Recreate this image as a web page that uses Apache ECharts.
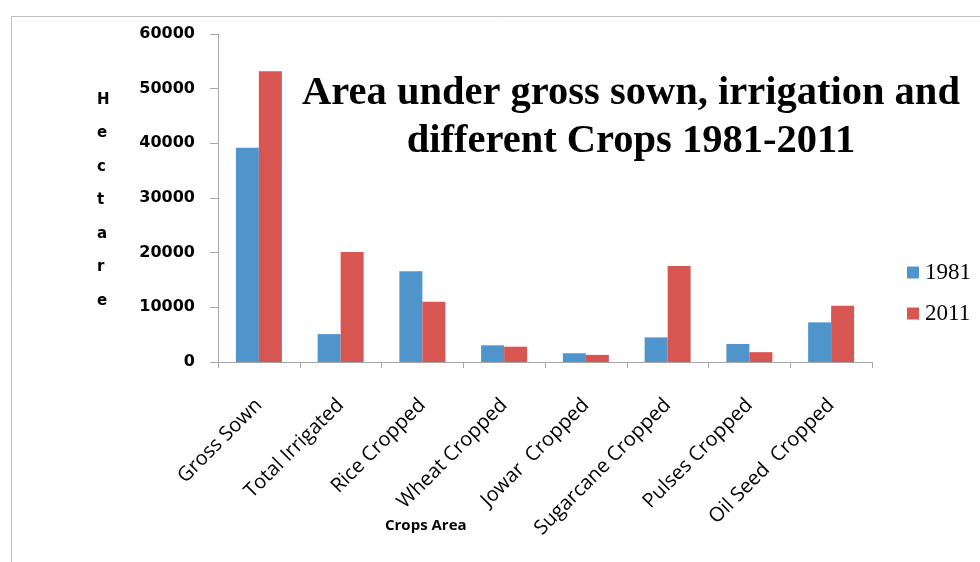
<!DOCTYPE html>
<html><head><meta charset="utf-8">
<script src="https://cdn.jsdelivr.net/npm/echarts@6/dist/echarts.min.js"></script>
<style>html,body{margin:0;padding:0;background:#fff}#c{width:980px;height:562px}</style>
</head><body><div id="c"></div>
<script>
var categories = ['Gross Sown','Total Irrigated','Rice Cropped','Wheat Cropped','Jowar  Cropped','Sugarcane Cropped','Pulses Cropped','Oil Seed  Cropped'];
var values1981 = [39200, 5100, 16600, 3050, 1600, 4500, 3300, 7250];
var values2011 = [53200, 20100, 11000, 2800, 1300, 17550, 1800, 10300];
var seriesNames = ['1981','2011'];
var yTicks = [0, 10000, 20000, 30000, 40000, 50000, 60000];
var titleLines = ['Area under gross sown, irrigation and', 'different Crops 1981-2011'];
var yAxisTitle = 'Hectare';
var xAxisTitle = 'Crops Area';

var chart = echarts.init(document.getElementById('c'));
var axisColor = '#a6a6a6';
chart.setOption({
  animation: false,
  backgroundColor: '#fff',
  color: ['#4f94cb', '#d85652'],
  grid: {left: 218, right: 108, top: 34, bottom: 200, containLabel: false},
  title: {
    text: titleLines.join('\n'),
    left: 626, top: 65, textAlign: 'center',
    textStyle: {fontFamily: 'Liberation Serif', fontWeight: 'bold', fontSize: 40.5, lineHeight: 48, color: '#000'}
  },
  legend: {
    orient: 'vertical', left: 902, top: 256, itemWidth: 12, itemHeight: 12, itemGap: 18,
    icon: 'rect',
    data: seriesNames,
    textStyle: {fontFamily: 'Liberation Serif', fontSize: 23, color: '#000', padding: [0,0,0,1]}
  },
  xAxis: {
    type: 'category', data: categories,
    axisLine: {lineStyle: {color: axisColor}},
    axisTick: {show: true, length: 6, lineStyle: {color: axisColor}},
    axisLabel: {rotate: 45, interval: 0, margin: 40, fontFamily: 'Open Sans', fontSize: 20, color: '#000'}
  },
  yAxis: {
    type: 'value', min: yTicks[0], max: yTicks[yTicks.length-1], interval: yTicks[1]-yTicks[0],
    splitLine: {show: false},
    axisLine: {show: true, lineStyle: {color: axisColor}},
    axisTick: {show: true, length: 8, lineStyle: {color: axisColor}},
    axisLabel: {margin: 23, fontFamily: 'DejaVu Sans', fontWeight: 'bold', fontSize: 16, color: '#000',
      formatter: function (v) { return String(v); }}
  },
  graphic: [
    {type: 'rect', shape: {x: 11.5, y: 16.5, width: 1000, height: 600}, style: {fill: null, stroke: '#bfbfbf', lineWidth: 1}, silent: true},
    {type: 'text', left: 97, top: 83, style: {text: yAxisTitle.split('').join('\n'), fontFamily: 'DejaVu Sans', fontWeight: 'bold', fontSize: 15, lineHeight: 33.5, fill: '#000', align: 'center'}},
    {type: 'text', left: 385, top: 518, style: {text: xAxisTitle, fontFamily: 'Open Sans', fontWeight: 'bold', fontSize: 15, fill: '#000'}}
  ],
  series: [
    {name: seriesNames[0], type: 'bar', data: values1981, barWidth: 23, barGap: '0%'},
    {name: seriesNames[1], type: 'bar', data: values2011, barWidth: 23, barGap: '0%'}
  ]
});
</script></body></html>
